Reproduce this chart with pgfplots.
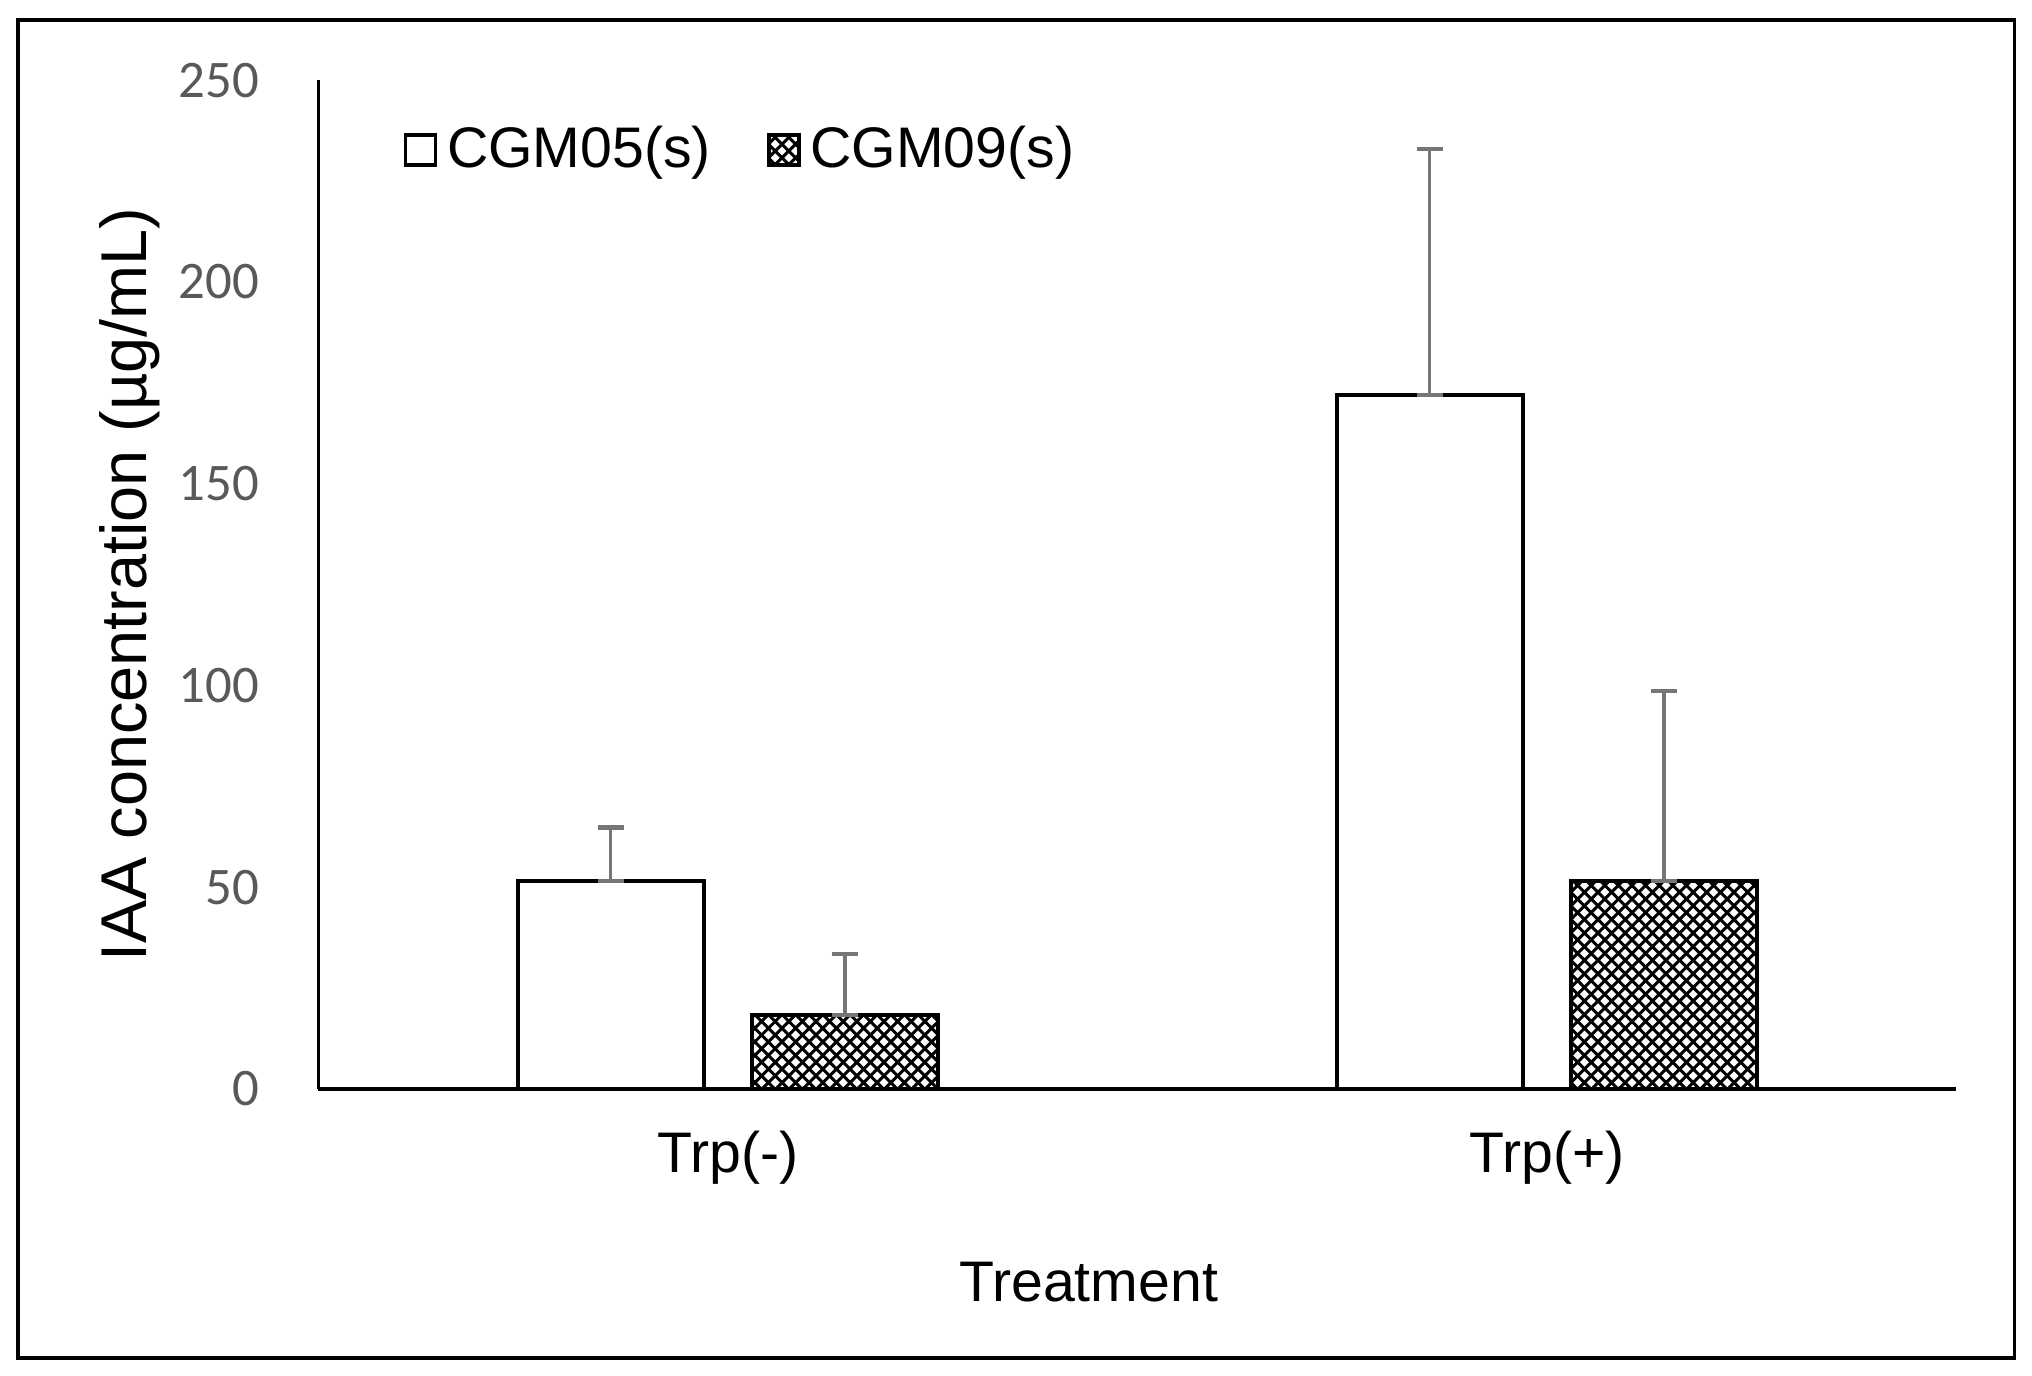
\documentclass[border=0pt]{standalone}
\usepackage{fontspec}
\setmainfont{Liberation Sans}
\newfontfamily\carlito{Carlito}
\usepackage{pgfplots}
\pgfplotsset{compat=1.18}
\usetikzlibrary{patterns}
\definecolor{tickgray}{RGB}{89,89,89}
\definecolor{errgray}{RGB}{118,118,118}
\pgfdeclarepatternformonly{diagcross}{\pgfqpoint{-1pt}{-1pt}}{\pgfqpoint{4.4pt}{4.4pt}}{\pgfqpoint{3.4pt}{3.4pt}}{%
  \pgfsetlinewidth{0.75pt}%
  \pgfpathmoveto{\pgfqpoint{-0.2pt}{-0.2pt}}\pgfpathlineto{\pgfqpoint{3.6pt}{3.6pt}}%
  \pgfpathmoveto{\pgfqpoint{-0.2pt}{3.6pt}}\pgfpathlineto{\pgfqpoint{3.6pt}{-0.2pt}}%
  \pgfusepath{stroke}}
\begin{document}
\begin{tikzpicture}
\begin{axis}[
  at={(0,0)}, anchor=south west,
  scale only axis, width=409.5pt, height=252.2pt,
  xmin=-0.5, xmax=1.5, ymin=0, ymax=250,
  axis lines*=left,
  axis line style={line width=0.8pt, black},
  xtick={0,1}, xticklabels={Trp(-),Trp(+)},
  ytick={0,50,...,250},
  major tick length=0pt,
  tick style={draw=none},
  xticklabel style={font=\fontsize{14.3}{17}\selectfont, anchor=north, inner sep=0pt, yshift=-10.3pt},
  yticklabel style={font=\carlito\fontsize{13.2}{16}\selectfont, text=tickgray, anchor=east, inner sep=0pt, xshift=-14.6pt},
  /pgf/number format/assume math mode=true,
  xlabel={Treatment},
  xlabel style={font=\fontsize{14.3}{17}\selectfont, at={([yshift=-43pt]axis description cs:0.4703,0)}, anchor=north, inner sep=0pt},
  ylabel={IAA concentration (µg/mL)},
  ylabel style={font=\fontsize{16.2}{19}\selectfont, at={([xshift=-47.1pt]axis description cs:0,0.5)}, anchor=center, inner sep=0pt},
  ybar, bar width=0.227,
  error bars/y dir=both, error bars/y explicit,
  error bars/error bar style={line width=0.8pt, errgray},
  error bars/error mark options={rotate=90, mark size=3.3pt, line width=1.1pt, errgray},
  legend image code/.code={\draw[#1,/tikz/.cd,line width=0.9pt] (0pt,-3.8pt) rectangle (7.5pt,3.7pt);},
  legend style={draw=none, fill=none, at={(axis description cs:0.052,0.931)}, anchor=west,
    inner sep=0pt, outer sep=0pt, font=\fontsize{14.3}{17}\selectfont, legend columns=2,
    nodes={inner sep=0pt},
    /tikz/every odd column/.append style={column sep=2.5pt},
    /tikz/every even column/.append style={column sep=14.0pt}},
  legend cell align=left,
]
\addplot[bar shift=-0.143, draw=black, fill=white, line width=0.9pt]
  coordinates {(0,51.5) += (0,13.3) -= (0,0) (1,172.0) += (0,60.9) -= (0,0)};
\addlegendentry{CGM05(s)}
\addplot[bar shift=0.143, draw=black, pattern=diagcross, line width=0.9pt]
  coordinates {(0,18.4) += (0,15.1) -= (0,0) (1,51.5) += (0,47.1) -= (0,0)};
\addlegendentry{CGM09(s)}
\end{axis}
\draw[line width=0.8pt] (-75.1pt,-67.25pt) rectangle (424.1pt,267.25pt);
\pgfresetboundingbox
\useasboundingbox (-79.6pt,-71.5pt) rectangle (428.4pt,272.25pt);
\end{tikzpicture}
\end{document}
